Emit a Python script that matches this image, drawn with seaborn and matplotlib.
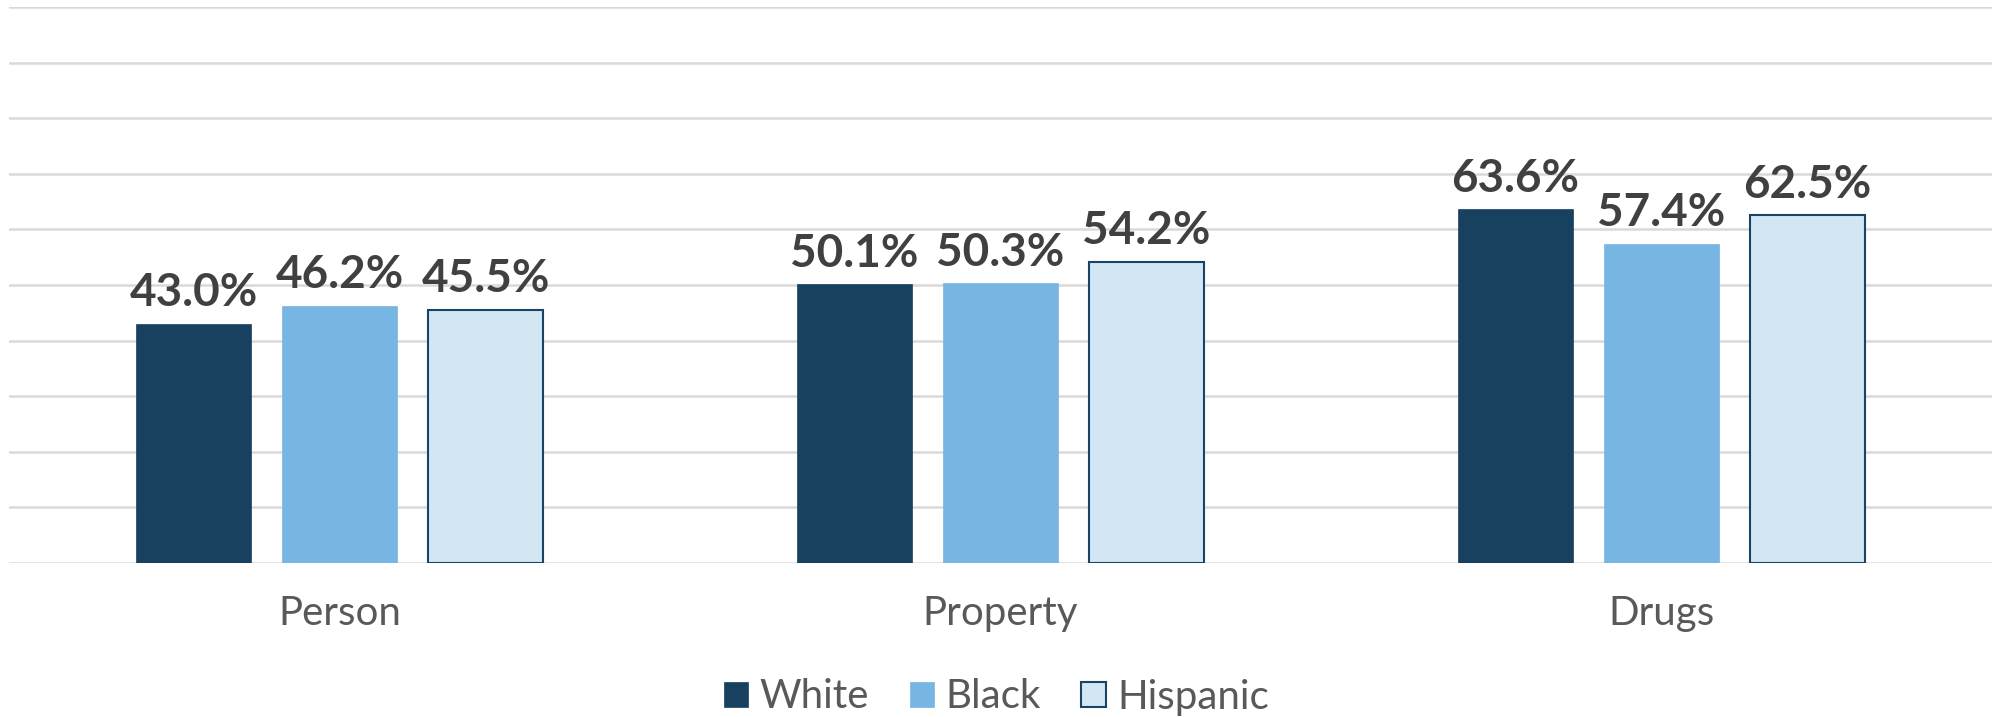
import matplotlib
matplotlib.use('Agg')
import matplotlib.pyplot as plt
import seaborn as sns
import pandas as pd

# datos
categorias = ['Person', 'Property', 'Drugs']
grupos = ['White', 'Black', 'Hispanic']
valores_white = [43.0, 50.1, 63.6]
valores_black = [46.2, 50.3, 57.4]
valores_hispanic = [45.5, 54.2, 62.5]

colores = {'White': '#17415F', 'Black': '#77B5E2', 'Hispanic': '#D2E6F4'}
bordes = {'White': '#17415F', 'Black': '#77B5E2', 'Hispanic': '#1A4464'}

df = pd.DataFrame({
    'categoria': categorias * 3,
    'grupo': ['White'] * 3 + ['Black'] * 3 + ['Hispanic'] * 3,
    'valor': valores_white + valores_black + valores_hispanic,
})

sns.set_theme(style='white')
plt.rcParams['font.family'] = ['Lato', 'DejaVu Sans']

fig = plt.figure(figsize=(19.93, 7.17), dpi=100)
ax = fig.add_axes([9 / 1993, 154 / 717, 1983 / 1993, 556 / 717])

sns.barplot(data=df, x='categoria', y='valor', hue='grupo', order=categorias,
            hue_order=grupos, palette=colores, width=0.663, gap=0.21,
            saturation=1, ax=ax, legend=True)

# bordes de barras (Hispanic con contorno oscuro)
for cont, g in zip(ax.containers, grupos):
    for barra in cont:
        barra.set_edgecolor(bordes[g])
        barra.set_linewidth(1.5 if g == 'Hispanic' else 0.5)
    ax.bar_label(cont, fmt='%.1f%%', padding=7, fontsize=33, fontweight='bold',
                 color='#404040')

ax.set_ylim(0, 100)
ax.set_yticks(range(0, 101, 10))
ax.yaxis.grid(True, color='#D9D9D9', linewidth=1.8)
ax.set_axisbelow(True)
ax.tick_params(axis='y', left=False, labelleft=False)
ax.tick_params(axis='x', bottom=False, pad=17, labelsize=29, labelcolor='#595959')
ax.set_xlabel('')
ax.set_ylabel('')
for s in ax.spines.values():
    s.set_visible(False)

handles, labels = ax.get_legend_handles_labels()
ax.legend_.remove()
leg = fig.legend(handles, labels, loc='center', bbox_to_anchor=(0.5, 1 - 697 / 717),
                 ncol=3, frameon=False, fontsize=29, handlelength=0.6,
                 handleheight=0.6, handletextpad=0.3, columnspacing=1.0)
for t in leg.get_texts():
    t.set_color('#595959')
for h, g in zip(leg.legend_handles, grupos):
    h.set_edgecolor(bordes[g])
    h.set_linewidth(1.5 if g == 'Hispanic' else 0.5)

fig.savefig('out.png', dpi=100)
